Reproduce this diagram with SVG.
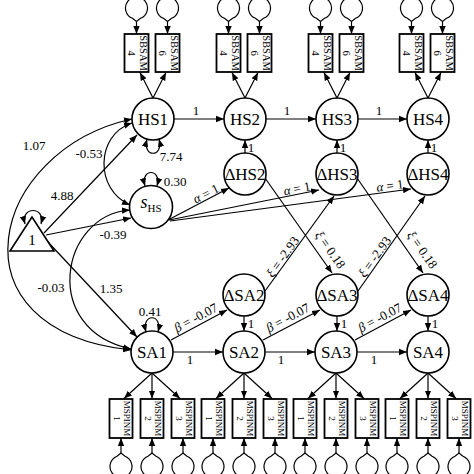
<svg xmlns="http://www.w3.org/2000/svg" width="474" height="474" viewBox="0 0 474 474">
<defs>
<marker id="ah" viewBox="0 0 10 10" refX="10" refY="5" markerWidth="8" markerHeight="8" markerUnits="userSpaceOnUse" orient="auto-start-reverse"><path d="M0,1 L10,5 L0,9 z" fill="#000"/></marker>
<style>
text{font-family:"Liberation Serif","Times New Roman",serif;fill:#000}
.n{fill:#fff;stroke:#000;stroke-width:1.6}
.b{fill:#fff;stroke:#000;stroke-width:1.8}
.c{fill:none;stroke:#000;stroke-width:1.2}
.a{marker-end:url(#ah)}
.d{marker-start:url(#ah);marker-end:url(#ah)}
.t{font-size:17px;text-anchor:middle}
.l{font-size:13px;text-anchor:middle}
.bt{font-size:10.5px;text-anchor:middle}
.mt{font-size:9px;text-anchor:middle}
</style>
</defs>
<rect width="474" height="474" fill="#fff"/>

<g id="connectors">
<!-- top error loops -->
<g class="c">
<path d="M132.5,18.3 A11 11 0 1 1 140.5,18.3 L136.5,21.5 Z"/>
<path d="M163.5,18.3 A11 11 0 1 1 171.5,18.3 L167.5,21.5 Z"/>
<path d="M224.5,18.3 A11 11 0 1 1 232.5,18.3 L228.5,21.5 Z"/>
<path d="M255.5,18.3 A11 11 0 1 1 263.5,18.3 L259.5,21.5 Z"/>
<path d="M316.5,18.3 A11 11 0 1 1 324.5,18.3 L320.5,21.5 Z"/>
<path d="M347.5,18.3 A11 11 0 1 1 355.5,18.3 L351.5,21.5 Z"/>
<path d="M407.5,18.3 A11 11 0 1 1 415.5,18.3 L411.5,21.5 Z"/>
<path d="M438.5,18.3 A11 11 0 1 1 446.5,18.3 L442.5,21.5 Z"/>
</g>
<g class="c a">
<path d="M136.5,21.5 L136.5,34"/><path d="M167.5,21.5 L167.5,34"/>
<path d="M228.5,21.5 L228.5,34"/><path d="M259.5,21.5 L259.5,34"/>
<path d="M320.5,21.5 L320.5,34"/><path d="M351.5,21.5 L351.5,34"/>
<path d="M411.5,21.5 L411.5,34"/><path d="M442.5,21.5 L442.5,34"/>
<!-- HS -> indicators -->
<path d="M153,98 L140,72.5"/><path d="M153,98 L166,72.5"/>
<path d="M245,98 L232,72.5"/><path d="M245,98 L258,72.5"/>
<path d="M337,98 L324,72.5"/><path d="M337,98 L350,72.5"/>
<path d="M428,98 L415,72.5"/><path d="M428,98 L441,72.5"/>
<!-- HS chain -->
<path d="M174,119 L224,119"/><path d="M266,119 L316,119"/><path d="M358,119 L407,119"/>
<!-- dHS -> HS -->
<path d="M245,153 L245,140"/><path d="M337,153 L337,140"/><path d="M428,153 L428,140"/>
<!-- s_HS -> dHS -->
<path d="M168,220 L229,188"/><path d="M169,220 L319,190"/><path d="M170,221 L411,189"/>
<!-- couplings -->
<path d="M265,178 L332,273"/><path d="M357,178 L423,273"/>
<path d="M265,291 L334,196"/><path d="M358,291 L425,196"/>
<!-- SA -> dSA -->
<path d="M171,340 L227,310"/><path d="M263,340 L320,310"/><path d="M355,340 L411,310"/>
<!-- dSA -> SA -->
<path d="M244,316 L244,331"/><path d="M337,316 L337,331"/><path d="M428,316 L428,331"/>
<!-- SA chain -->
<path d="M173,352 L223,352"/><path d="M265,352 L315,352"/><path d="M357,352 L407,352"/>
<!-- triangle paths -->
<path d="M44,233 L137,135"/>
<path d="M46,235 L131,218"/>
<path d="M47,241 L137,337"/>
<!-- SA -> indicators -->
<path d="M152,373 L124,398.5"/><path d="M152,373 L152,398.5"/><path d="M152,373 L180,398.5"/>
<path d="M244,373 L216,398.5"/><path d="M244,373 L244,398.5"/><path d="M244,373 L272,398.5"/>
<path d="M336,373 L308,398.5"/><path d="M336,373 L336,398.5"/><path d="M336,373 L364,398.5"/>
<path d="M428,373 L400,398.5"/><path d="M428,373 L428,398.5"/><path d="M428,373 L456,398.5"/>
<!-- bottom error arrows -->
<path d="M121,453 L121,438"/><path d="M152,453 L152,438"/><path d="M183,453 L183,438"/>
<path d="M213,453 L213,438"/><path d="M244,453 L244,438"/><path d="M275,453 L275,438"/>
<path d="M305,453 L305,438"/><path d="M336,453 L336,438"/><path d="M367,453 L367,438"/>
<path d="M397,453 L397,438"/><path d="M428,453 L428,438"/><path d="M459,453 L459,438"/>
</g>
<g class="c">
<path d="M117,456.3 A11 11 0 1 0 125,456.3 L121,453 Z"/>
<path d="M148,456.3 A11 11 0 1 0 156,456.3 L152,453 Z"/>
<path d="M179,456.3 A11 11 0 1 0 187,456.3 L183,453 Z"/>
<path d="M209,456.3 A11 11 0 1 0 217,456.3 L213,453 Z"/>
<path d="M240,456.3 A11 11 0 1 0 248,456.3 L244,453 Z"/>
<path d="M271,456.3 A11 11 0 1 0 279,456.3 L275,453 Z"/>
<path d="M301,456.3 A11 11 0 1 0 309,456.3 L305,453 Z"/>
<path d="M332,456.3 A11 11 0 1 0 340,456.3 L336,453 Z"/>
<path d="M363,456.3 A11 11 0 1 0 371,456.3 L367,453 Z"/>
<path d="M393,456.3 A11 11 0 1 0 401,456.3 L397,453 Z"/>
<path d="M424,456.3 A11 11 0 1 0 432,456.3 L428,453 Z"/>
<path d="M455,456.3 A11 11 0 1 0 463,456.3 L459,453 Z"/>
</g>
<!-- covariances and variances -->
<g class="c d">
<path d="M132,119 C-10,150 -55,330 131,350"/>
<path d="M132,123 C95,135 95,190 130,205"/>
<path d="M130,210 C60,215 40,330 131,349"/>
<path d="M147,139 C142,158 164,158 159,139"/>
<path d="M145,186 C140,168 162,168 157,186"/>
<path d="M146,332 C141,313 163,313 158,332"/>
<path d="M25,224 C20,206 46,206 41,224"/>
</g>
</g>

<g id="labels">
<text class="l" x="34" y="149.5">1.07</text>
<text class="l" x="89" y="157.5">-0.53</text>
<text class="l" x="171" y="160.5">7.74</text>
<text class="l" x="175" y="185.5">0.30</text>
<text class="l" x="62" y="199.5">4.88</text>
<text class="l" x="113" y="238.5">-0.39</text>
<text class="l" x="51" y="291.5">-0.03</text>
<text class="l" x="111" y="292.5">1.35</text>
<text class="l" x="150" y="315.5">0.41</text>
<text class="l" x="196" y="114.5">1</text>
<text class="l" x="287" y="114.5">1</text>
<text class="l" x="379" y="114.5">1</text>
<text class="l" x="190" y="364">1</text>
<text class="l" x="281" y="364">1</text>
<text class="l" x="374" y="364">1</text>
<text class="l" x="251" y="151.5">1</text>
<text class="l" x="343" y="151.5">1</text>
<text class="l" x="434" y="151.5">1</text>
<text class="l" x="251" y="328">1</text>
<text class="l" x="344" y="328">1</text>
<text class="l" x="435" y="328">1</text>
<text class="l" transform="translate(206,194) rotate(-27.5)" y="4"><tspan font-style="italic">α</tspan> = 1</text>
<text class="l" transform="translate(297,189) rotate(-11)" y="4"><tspan font-style="italic">α</tspan> = 1</text>
<text class="l" transform="translate(390,186) rotate(-7.5)" y="4"><tspan font-style="italic">α</tspan> = 1</text>
<text class="l" transform="translate(196,318) rotate(-28)" y="4"><tspan font-style="italic">β</tspan> = -0.07</text>
<text class="l" transform="translate(288,318) rotate(-28)" y="4"><tspan font-style="italic">β</tspan> = -0.07</text>
<text class="l" transform="translate(380,318) rotate(-28)" y="4"><tspan font-style="italic">β</tspan> = -0.07</text>
<text class="l" transform="translate(283,257) rotate(-54.5)" y="4"><tspan font-style="italic">ξ</tspan> = -2.93</text>
<text class="l" transform="translate(375,257) rotate(-54.5)" y="4"><tspan font-style="italic">ξ</tspan> = -2.93</text>
<text class="l" transform="translate(330,250) rotate(54.8)" y="4"><tspan font-style="italic">ξ</tspan> = 0.18</text>
<text class="l" transform="translate(422,250) rotate(54.8)" y="4"><tspan font-style="italic">ξ</tspan> = 0.18</text>
</g>

<g id="HS1"><circle class="n" cx="153" cy="119" r="21"/><text class="t" x="153" y="125">HS1</text></g>
<g id="HS2"><circle class="n" cx="245" cy="119" r="21"/><text class="t" x="245" y="125">HS2</text></g>
<g id="HS3"><circle class="n" cx="337" cy="119" r="21"/><text class="t" x="337" y="125">HS3</text></g>
<g id="HS4"><circle class="n" cx="428" cy="119" r="21"/><text class="t" x="428" y="125">HS4</text></g>
<g id="dHS2"><circle class="n" cx="245" cy="174" r="21"/><text class="t" x="245" y="180">ΔHS2</text></g>
<g id="dHS3"><circle class="n" cx="337" cy="174" r="21"/><text class="t" x="337" y="180">ΔHS3</text></g>
<g id="dHS4"><circle class="n" cx="428" cy="174" r="21"/><text class="t" x="428" y="180">ΔHS4</text></g>
<g id="sHS"><circle class="n" cx="151" cy="207" r="21.5"/><text class="t" x="151" y="208"><tspan font-style="italic" font-size="18">s</tspan><tspan font-size="11" dy="4">HS</tspan></text></g>
<g id="one"><polygon class="n" points="32,217 10,251 54,251"/><text x="32" y="245" font-size="15" text-anchor="middle">1</text></g>
<g id="dSA2"><circle class="n" cx="244" cy="295" r="21"/><text class="t" x="244" y="301">ΔSA2</text></g>
<g id="dSA3"><circle class="n" cx="337" cy="295" r="21"/><text class="t" x="337" y="301">ΔSA3</text></g>
<g id="dSA4"><circle class="n" cx="428" cy="295" r="21"/><text class="t" x="428" y="301">ΔSA4</text></g>
<g id="SA1"><circle class="n" cx="152" cy="352" r="21"/><text class="t" x="152" y="358">SA1</text></g>
<g id="SA2"><circle class="n" cx="244" cy="352" r="21"/><text class="t" x="244" y="358">SA2</text></g>
<g id="SA3"><circle class="n" cx="336" cy="352" r="21"/><text class="t" x="336" y="358">SA3</text></g>
<g id="SA4"><circle class="n" cx="428" cy="352" r="21"/><text class="t" x="428" y="358">SA4</text></g>

<g id="HS1_SBSAM4"><rect class="b" x="124.5" y="34" width="24" height="38"/><text class="bt" transform="translate(136.5,53) rotate(90)"><tspan x="0" y="-3">SBSAM</tspan><tspan x="0" y="8.5">4</tspan></text></g>
<g id="HS1_SBSAM6"><rect class="b" x="155.5" y="34" width="24" height="38"/><text class="bt" transform="translate(167.5,53) rotate(90)"><tspan x="0" y="-3">SBSAM</tspan><tspan x="0" y="8.5">6</tspan></text></g>
<g id="HS2_SBSAM4"><rect class="b" x="216.5" y="34" width="24" height="38"/><text class="bt" transform="translate(228.5,53) rotate(90)"><tspan x="0" y="-3">SBSAM</tspan><tspan x="0" y="8.5">4</tspan></text></g>
<g id="HS2_SBSAM6"><rect class="b" x="247.5" y="34" width="24" height="38"/><text class="bt" transform="translate(259.5,53) rotate(90)"><tspan x="0" y="-3">SBSAM</tspan><tspan x="0" y="8.5">6</tspan></text></g>
<g id="HS3_SBSAM4"><rect class="b" x="308.5" y="34" width="24" height="38"/><text class="bt" transform="translate(320.5,53) rotate(90)"><tspan x="0" y="-3">SBSAM</tspan><tspan x="0" y="8.5">4</tspan></text></g>
<g id="HS3_SBSAM6"><rect class="b" x="339.5" y="34" width="24" height="38"/><text class="bt" transform="translate(351.5,53) rotate(90)"><tspan x="0" y="-3">SBSAM</tspan><tspan x="0" y="8.5">6</tspan></text></g>
<g id="HS4_SBSAM4"><rect class="b" x="399.5" y="34" width="24" height="38"/><text class="bt" transform="translate(411.5,53) rotate(90)"><tspan x="0" y="-3">SBSAM</tspan><tspan x="0" y="8.5">4</tspan></text></g>
<g id="HS4_SBSAM6"><rect class="b" x="430.5" y="34" width="24" height="38"/><text class="bt" transform="translate(442.5,53) rotate(90)"><tspan x="0" y="-3">SBSAM</tspan><tspan x="0" y="8.5">6</tspan></text></g>

<g id="SA1_M1"><rect class="b" x="109.5" y="399" width="23" height="39"/><text class="mt" transform="translate(121,418.5) rotate(90)"><tspan x="0" y="-2.5">MSPINM</tspan><tspan x="0" y="7.5">1</tspan></text></g>
<g id="SA1_M2"><rect class="b" x="140.5" y="399" width="23" height="39"/><text class="mt" transform="translate(152,418.5) rotate(90)"><tspan x="0" y="-2.5">MSPINM</tspan><tspan x="0" y="7.5">2</tspan></text></g>
<g id="SA1_M3"><rect class="b" x="171.5" y="399" width="23" height="39"/><text class="mt" transform="translate(183,418.5) rotate(90)"><tspan x="0" y="-2.5">MSPINM</tspan><tspan x="0" y="7.5">3</tspan></text></g>
<g id="SA2_M1"><rect class="b" x="201.5" y="399" width="23" height="39"/><text class="mt" transform="translate(213,418.5) rotate(90)"><tspan x="0" y="-2.5">MSPINM</tspan><tspan x="0" y="7.5">1</tspan></text></g>
<g id="SA2_M2"><rect class="b" x="232.5" y="399" width="23" height="39"/><text class="mt" transform="translate(244,418.5) rotate(90)"><tspan x="0" y="-2.5">MSPINM</tspan><tspan x="0" y="7.5">2</tspan></text></g>
<g id="SA2_M3"><rect class="b" x="263.5" y="399" width="23" height="39"/><text class="mt" transform="translate(275,418.5) rotate(90)"><tspan x="0" y="-2.5">MSPINM</tspan><tspan x="0" y="7.5">3</tspan></text></g>
<g id="SA3_M1"><rect class="b" x="293.5" y="399" width="23" height="39"/><text class="mt" transform="translate(305,418.5) rotate(90)"><tspan x="0" y="-2.5">MSPINM</tspan><tspan x="0" y="7.5">1</tspan></text></g>
<g id="SA3_M2"><rect class="b" x="324.5" y="399" width="23" height="39"/><text class="mt" transform="translate(336,418.5) rotate(90)"><tspan x="0" y="-2.5">MSPINM</tspan><tspan x="0" y="7.5">2</tspan></text></g>
<g id="SA3_M3"><rect class="b" x="355.5" y="399" width="23" height="39"/><text class="mt" transform="translate(367,418.5) rotate(90)"><tspan x="0" y="-2.5">MSPINM</tspan><tspan x="0" y="7.5">3</tspan></text></g>
<g id="SA4_M1"><rect class="b" x="385.5" y="399" width="23" height="39"/><text class="mt" transform="translate(397,418.5) rotate(90)"><tspan x="0" y="-2.5">MSPINM</tspan><tspan x="0" y="7.5">1</tspan></text></g>
<g id="SA4_M2"><rect class="b" x="416.5" y="399" width="23" height="39"/><text class="mt" transform="translate(428,418.5) rotate(90)"><tspan x="0" y="-2.5">MSPINM</tspan><tspan x="0" y="7.5">2</tspan></text></g>
<g id="SA4_M3"><rect class="b" x="447.5" y="399" width="23" height="39"/><text class="mt" transform="translate(459,418.5) rotate(90)"><tspan x="0" y="-2.5">MSPINM</tspan><tspan x="0" y="7.5">3</tspan></text></g>
</svg>
